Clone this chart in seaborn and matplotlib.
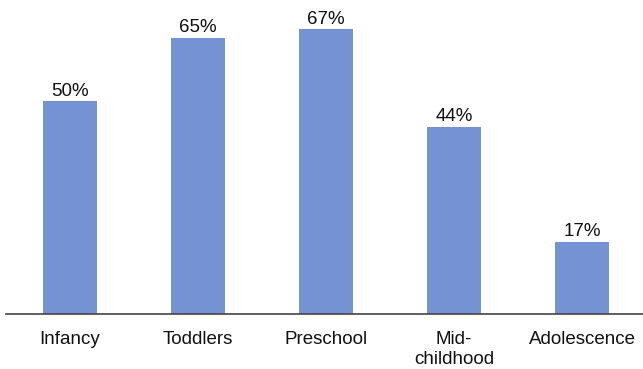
import matplotlib
matplotlib.use('Agg')
import matplotlib.pyplot as plt
import seaborn as sns
import pandas as pd

# 数据
stages = ['Infancy', 'Toddlers', 'Preschool', 'Mid-\nchildhood', 'Adolescence']
percent = [50, 65, 67, 44, 17]
bar_color = '#7593D4'

sns.set_style('white')
plt.rcParams['font.family'] = ['Liberation Sans', 'DejaVu Sans']

df = pd.DataFrame({'stage': stages, 'percent': percent})

fig = plt.figure(figsize=(6.43, 3.69), dpi=100)
ax = fig.add_axes([6 / 643, 55 / 369, 637 / 643, 296 / 369])

sns.barplot(data=df, x='stage', y='percent', color=bar_color,
            width=0.42, saturation=1, linewidth=0, ax=ax)

# 数值标签
ax.bar_label(ax.containers[0], labels=[f'{v}%' for v in percent],
             padding=1, fontsize=13.5, color='#111111')

ax.set_xlim(-0.5, 4.5 - 3 / 128)
ax.set_ylim(0, 69.6)
ax.set_xlabel('')
ax.set_ylabel('')
ax.set_yticks([])
ax.tick_params(axis='x', length=0, pad=12, labelsize=13.5, colors='#111111')
for lbl in ax.get_xticklabels():
    lbl.set_linespacing(1.25)

for side in ['top', 'right', 'left']:
    ax.spines[side].set_visible(False)
ax.spines['bottom'].set_color('#444444')
ax.spines['bottom'].set_linewidth(1.2)

fig.savefig('out.png', dpi=100)
